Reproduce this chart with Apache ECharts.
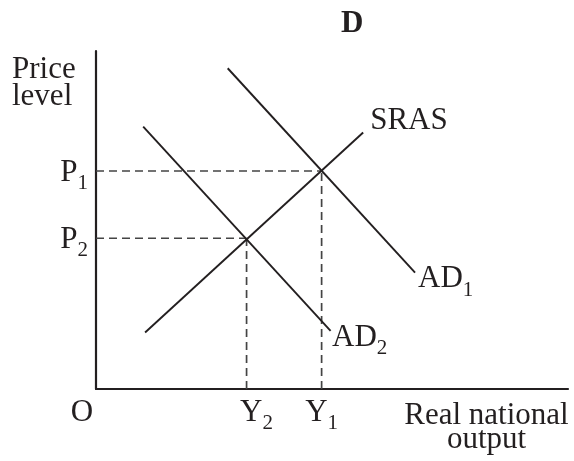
<!DOCTYPE html>
<html>
<head>
<meta charset="utf-8">
<title>D</title>
<script src="https://cdn.jsdelivr.net/npm/echarts@6/dist/echarts.min.js"></script>
<style>
  html, body { margin: 0; padding: 0; background: #fff; }
  #chart { width: 574px; height: 461px; }
</style>
</head>
<body>
<div id="chart"></div>
<script>
// curve end points, axes run 0..100 both ways
var srasPts = [[10.4, 16.7], [56.6, 75.9]];
var ad1Pts = [[27.9, 94.9], [67.6, 34.4]];
var ad2Pts = [[10.0, 77.6], [49.7, 17.2]];
var priceVals = [64.5, 44.6];          // P1, P2
var outputVals = [47.8, 31.9];         // Y1, Y2
var priceTicks = ['1', '2'];
var outputTicks = ['1', '2'];

var ink = '#231f20';
var serif = "'Liberation Serif', 'Times New Roman', serif";
var rich = {
  m: { fontSize: 31, lineHeight: 30, padding: [6, 0, 6, 0], verticalAlign: 'bottom', color: ink, fontFamily: serif },
  mY2: { fontSize: 31, lineHeight: 30, padding: [6, 0, 6, 20], verticalAlign: 'bottom', color: ink, fontFamily: serif },
  o: { fontSize: 31, lineHeight: 30, padding: [6, 28, 6, 0], verticalAlign: 'bottom', color: ink, fontFamily: serif },
  s: { fontSize: 21, lineHeight: 20, verticalAlign: 'bottom', color: ink, fontFamily: serif }
};

function curve(name, pts, dx, dy, tag) {
  return {
    name: name,
    type: 'line',
    data: pts,
    symbol: 'circle',
    symbolSize: 0,
    showSymbol: true,
    silent: true,
    lineStyle: { color: ink, width: 1.9 },
    itemStyle: { color: ink },
    emphasis: { disabled: true },
    label: {
      show: true,
      position: 'right',
      distance: 0,
      offset: [dx, dy],
      rich: rich,
      fontFamily: serif,
      fontSize: 31,
      color: ink,
      formatter: function(p) { return p.dataIndex === pts.length - 1 ? tag : ''; }
    }
  };
}

function dashed(pts) {
  return {
    type: 'line',
    data: pts,
    showSymbol: false,
    silent: true,
    lineStyle: { color: '#444', width: 1.7, type: [8, 5] },
    emphasis: { disabled: true }
  };
}

var chart = echarts.init(document.getElementById('chart'));
chart.setOption({
  animation: false,
  title: {
    text: 'D', left: 341, top: 8, padding: 0,
    textStyle: { fontFamily: serif, fontSize: 31, fontWeight: 'bold', color: ink }
  },
  grid: { left: 96, right: 6, top: 51, bottom: 72, containLabel: false },
  xAxis: {
    type: 'value', min: 0, max: 100,
    splitLine: { show: false }, axisTick: { show: false },
    axisLine: { lineStyle: { color: ink, width: 2.2 } },
    axisLabel: {
      customValues: [0].concat(outputVals),
      margin: 15,
      rich: rich,
      formatter: function(v) {
        if (v === 0) return '{o|O}';
        var i = outputVals.indexOf(v);
        return (i === 1 ? '{mY2|Y}' : '{m|Y}') + '{s|' + outputTicks[i] + '}';
      }
    }
  },
  yAxis: {
    type: 'value', min: 0, max: 100,
    splitLine: { show: false }, axisTick: { show: false },
    axisLine: { lineStyle: { color: ink, width: 2.2 } },
    axisLabel: {
      customValues: priceVals,
      margin: 8,
      padding: [16, 0, 0, 0],
      rich: rich,
      formatter: function(v) {
        return '{m|P}{s|' + priceTicks[priceVals.indexOf(v)] + '}';
      }
    }
  },
  graphic: [
    { type: 'text', left: 12, top: 54, silent: true,
      style: { text: 'Price\nlevel', fontFamily: serif, fontSize: 31, lineHeight: 27, fill: ink, align: 'left' } },
    { type: 'text', x: 486.5, y: 404, silent: true,
      style: { text: 'Real national\noutput', fontFamily: serif, fontSize: 31, lineHeight: 24, fill: ink, align: 'center', verticalAlign: 'top' } }
  ],
  series: [
    dashed([[0, priceVals[0]], [outputVals[0], priceVals[0]]]),
    dashed([[outputVals[0], 0], [outputVals[0], priceVals[0]]]),
    dashed([[0, priceVals[1]], [outputVals[1], priceVals[1]]]),
    dashed([[outputVals[1], 0], [outputVals[1], priceVals[1]]]),
    curve('SRAS', srasPts, 7, -12, 'SRAS'),
    curve('AD1', ad1Pts, 3, 13, '{m|AD}{s|1}'),
    curve('AD2', ad2Pts, 1.5, 13.5, '{m|AD}{s|2}')
  ]
});
</script>
</body>
</html>
